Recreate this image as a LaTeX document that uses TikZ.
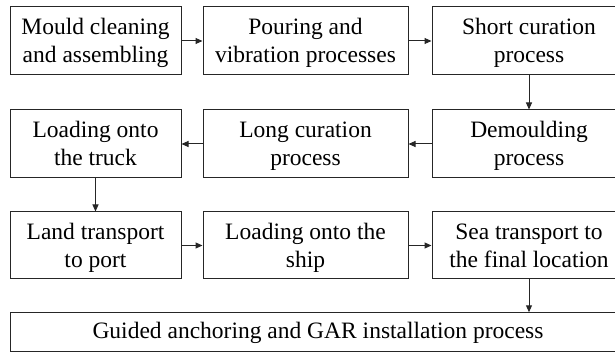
\documentclass[tikz,border=0pt]{standalone}
\usepackage{fontspec}
\setmainfont{Liberation Serif}
\usetikzlibrary{arrows.meta}
% fixed line height so every box places its baselines alike
\newcommand\boxstrut{\rule[-6pt]{0pt}{28pt}}
\newcommand\onestrut{\rule[-8pt]{0pt}{28pt}}
\begin{document}
\begin{tikzpicture}[x=1pt,y=-1pt,
  procbox/.style={draw=black!85,line width=1pt,inner sep=0pt,align=center,
    font=\fontsize{23.5}{28}\selectfont,minimum height=68pt},
  flow/.style={draw=black!85,line width=1pt,-{Triangle[length=7pt,width=6pt]}}]
\clip (0,0) rectangle (615,352);
% first row
\node[procbox,minimum width=171pt] (b1) at (95.5,41) {\boxstrut Mould cleaning\\\boxstrut and assembling};
\node[procbox,minimum width=205pt] (b2) at (305.5,41) {\boxstrut Pouring and\\\boxstrut vibration processes};
\node[procbox,minimum width=194pt] (b3) at (529,41) {\boxstrut Short curation\\\boxstrut process};
% second row
\node[procbox,minimum width=171pt] (b4) at (95.5,144) {\boxstrut Loading onto\\\boxstrut the truck};
\node[procbox,minimum width=205pt] (b5) at (305.5,144) {\boxstrut Long curation\\\boxstrut process};
\node[procbox,minimum width=194pt] (b6) at (529,144) {\boxstrut Demoulding\\\boxstrut process};
% third row
\node[procbox,minimum width=171pt,minimum height=67pt] (b7) at (95.5,245.5) {\boxstrut Land transport\\\boxstrut to port};
\node[procbox,minimum width=205pt,minimum height=67pt] (b8) at (305.5,245.5) {\boxstrut Loading onto the\\\boxstrut ship};
\node[procbox,minimum width=194pt,minimum height=67pt] (b9) at (529,245.5) {\boxstrut Sea transport to\\\boxstrut the final location};
% final step
\node[procbox,minimum width=616pt,minimum height=38.5pt] (b10) at (318,332) {\onestrut Guided anchoring and GAR installation process};
% connectors
\draw[flow] (b1) -- (b2);
\draw[flow] (b2) -- (b3);
\draw[flow] (b3) -- (b6);
\draw[flow] (b6) -- (b5);
\draw[flow] (b5) -- (b4);
\draw[flow] (b4) -- (b7);
\draw[flow] (b7) -- (b8);
\draw[flow] (b8) -- (b9);
\draw[flow] (b9.south) -- (b9.south |- b10.north);
\end{tikzpicture}
\end{document}
